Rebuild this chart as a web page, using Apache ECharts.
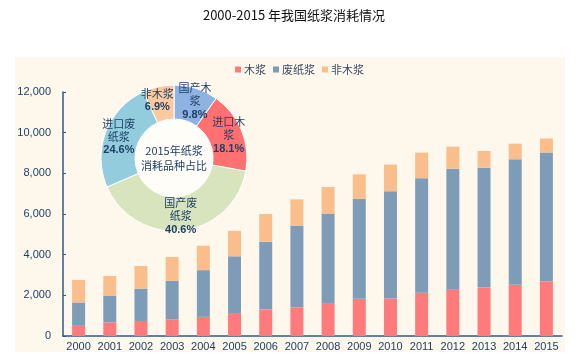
<!DOCTYPE html>
<html><head><meta charset="utf-8">
<script src="https://cdn.jsdelivr.net/npm/echarts@6/dist/echarts.min.js"></script>
<style>html,body{margin:0;padding:0;background:#fff}#c{width:588px;height:359px}</style>
</head><body><div id="c"></div>
<script>
const years = ['2000','2001','2002','2003','2004','2005','2006','2007','2008','2009','2010','2011','2012','2013','2014','2015'];
const woodPulp = [500, 670, 740, 820, 940, 1130, 1310, 1410, 1590, 1830, 1840, 2130, 2280, 2380, 2520, 2690];
const wastePulp = [1150, 1300, 1590, 1890, 2300, 2790, 3330, 4000, 4430, 4920, 5280, 5630, 5950, 5900, 6170, 6330];
const nonWoodPulp = [1110, 980, 1110, 1180, 1200, 1250, 1360, 1310, 1310, 1200, 1310, 1260, 1080, 820, 770, 690];
const seriesNames = ['木浆', '废纸浆', '非木浆'];
const pieNames = ['国产木\n浆', '进口木\n浆', '国产废\n纸浆', '进口废\n纸浆', '非木浆'];
const pieValues = [9.8, 18.1, 40.6, 24.6, 6.9];
const yTicks = [0, 2000, 4000, 6000, 8000, 10000, 12000];

const cjk = '"Noto Sans CJK SC", sans-serif';
const lab = '#1F3F66';
const axisCol = '#2E5A8A';
const labelShift = {0: 3, 4: -4};
const chart = echarts.init(document.getElementById('c'));
chart.setOption({
  backgroundColor: '#ffffff',
  animation: false,
  graphic: [{type: 'rect', z: -10, shape: {x: 15, y: 57, width: 550, height: 295}, style: {fill: '#FEF8EC'}}],
  title: {text: '2000-2015 年我国纸浆消耗情况', left: 'center', top: 4,
    textStyle: {fontFamily: cjk, fontSize: 13, fontWeight: 'normal', color: '#111'}},
  legend: {data: seriesNames, left: 230, top: 59, itemWidth: 6, itemHeight: 6, itemGap: 7,
    icon: 'rect', textStyle: {fontFamily: cjk, fontSize: 11, color: '#3a4a60', padding: [0,0,0,-2]}},
  grid: {left: 63, right: 26, top: 92, bottom: 23},
  xAxis: {type: 'category', data: years,
    axisLine: {lineStyle: {color: axisCol, width: 1.5}},
    axisTick: {inside: true, length: 3, lineStyle: {color: axisCol}},
    axisLabel: {color: lab, fontFamily: 'Arial, "Liberation Sans"', fontSize: 11, margin: 5, interval: 0}},
  yAxis: {type: 'value', min: 0, max: 12000, interval: 2000,
    axisLine: {show: true, lineStyle: {color: axisCol, width: 1.5}},
    axisTick: {show: true, inside: true, length: 3, lineStyle: {color: axisCol}},
    splitLine: {show: false},
    axisLabel: {color: lab, fontFamily: 'Arial, "Liberation Sans"', fontSize: 11, margin: 12,
      formatter: v => yTicks.includes(v) ? v.toLocaleString('en-US') : ''}},
  series: [
    {name: seriesNames[0], type: 'bar', stack: 't', barWidth: 13, data: woodPulp, itemStyle: {color: '#FF7B7B'}},
    {name: seriesNames[1], type: 'bar', stack: 't', barWidth: 13, data: wastePulp, itemStyle: {color: '#7E9BB8'}},
    {name: seriesNames[2], type: 'bar', stack: 't', barWidth: 13, data: nonWoodPulp, itemStyle: {color: '#F9BE8C'}},
    {type: 'pie', silent: true, center: [174, 158], radius: [0, 39], z: 5,
      label: {show: true, position: 'center', formatter: '2015年纸浆\n消耗品种占比',
        fontFamily: cjk, fontSize: 11, color: lab, lineHeight: 15},
      itemStyle: {color: '#FFFDF8'}, data: [{value: 1}]},
    {type: 'pie', silent: true, center: [174, 158], radius: [39, 73], startAngle: 90, clockwise: true, z: 5,
      itemStyle: {borderColor: '#fff', borderWidth: 1},
      labelLayout: p => ({hideOverlap: false, dx: labelShift[p.dataIndex] || 0}),
      label: {show: true, position: 'inside', color: lab, fontFamily: cjk, fontSize: 11, lineHeight: 13,
        formatter: p => p.name + '\n{b|' + p.value.toFixed(1) + '%}',
        rich: {b: {fontFamily: 'Arial, "Liberation Sans"', fontWeight: 'bold', fontSize: 11, color: lab, lineHeight: 14}}},
      labelLine: {show: false},
      data: pieNames.map((n, i) => ({name: n, value: pieValues[i],
        itemStyle: {color: ['#8DB3E2', '#FF7171', '#D7E4BD', '#93CDDD', '#FAC9A0'][i]}}))}
  ]
});
</script></body></html>
